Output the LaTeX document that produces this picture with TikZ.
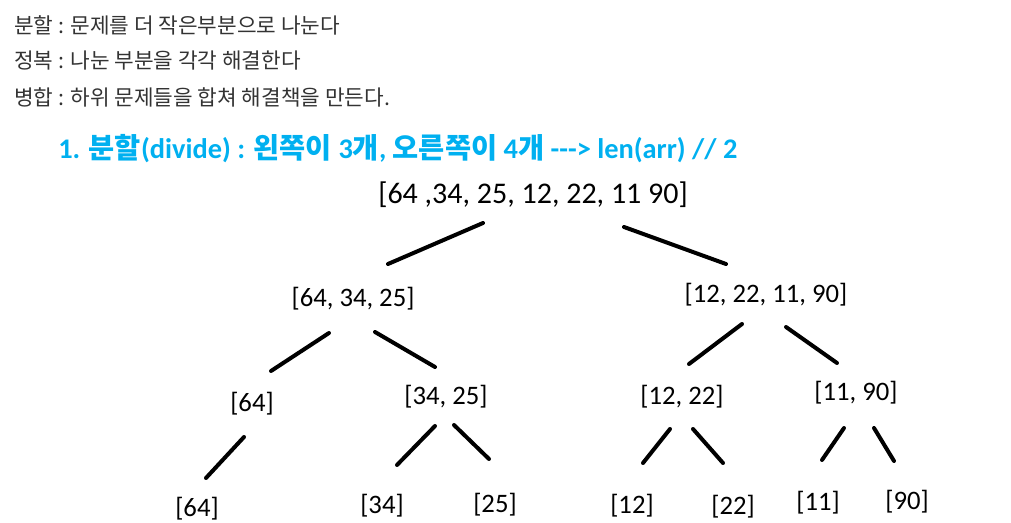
\documentclass[tikz,border=0pt]{standalone}
\usepackage{fontspec}
\setmainfont{Carlito}
\newfontfamily\kr{Noto Sans CJK KR}
\usetikzlibrary{calc}
\definecolor{headblue}{RGB}{0,176,240}
\newcommand{\branch}[4]{\draw[branch] ($(#1)+(#2)$) -- ($(#3)+(#4)$);}

\begin{document}
\begin{tikzpicture}[x=0.75pt,y=-0.75pt]
    \tikzstyle{note}=[anchor=west, inner sep=0pt, text=black!80, font=\kr\fontsize{16}{19}\selectfont]
    \tikzstyle{arr}=[inner sep=0pt, font=\fontsize{20}{24}\selectfont]
    \tikzstyle{branch}=[line width=3pt, line cap=round]
    \useasboundingbox (0,0) rectangle (1011,523);

    \node[note] (divide) at (14,25) {분할 : 문제를 더 작은부분으로 나눈다};
    \node[note] (conquer) at (14,61) {정복 : 나눈 부분을 각각 해결한다};
    \node[note] (combine) at (14,97) {병합 : 하위 문제들을 합쳐 해결책을 만든다.};
    \node[anchor=west, inner sep=0pt, text=headblue, font=\bfseries\fontsize{21.3}{25}\selectfont] (title) at (58,149)
        {1. {\kr 분할}(divide) : {\kr 왼쪽이} 3{\kr 개}, {\kr 오른쪽이} 4{\kr 개} -{}-{}-> len(arr) // 2};

    \node[arr, font=\fontsize{22.5}{27}\selectfont] (root) at (533,195) {[64 ,34, 25, 12, 22, 11 90]};
    \node[arr] (l) at (353,299) {[64, 34, 25]};
    \node[arr] (r) at (766,295) {[12, 22, 11, 90]};
    \node[arr] (ll) at (252,404) {[64]};
    \node[arr] (lr) at (446,397) {[34, 25]};
    \node[arr] (rl) at (682,397) {[12, 22]};
    \node[arr] (rr) at (856,393) {[11, 90]};
    \node[arr] (lla) at (197,509) {[64]};
    \node[arr] (lra) at (382,506) {[34]};
    \node[arr] (lrb) at (495,505) {[25]};
    \node[arr] (rla) at (632,506) {[12]};
    \node[arr] (rlb) at (733,507) {[22]};
    \node[arr] (rra) at (818,503) {[11]};
    \node[arr] (rrb) at (907,502) {[90]};

    % divide lines
    \branch{root}{-50,28}{l}{35,-35}
    \branch{root}{91,32}{r}{-40,-31}
    \branch{l}{-24,34}{ll}{19,-33}
    \branch{l}{22,33}{lr}{-11,-30}
    \branch{r}{-24,29}{rl}{7,-33}
    \branch{r}{20,32}{rr}{-19,-30}
    \branch{ll}{-8,33}{lla}{9,-31}
    \branch{lr}{-11,29}{lra}{15,-41}
    \branch{lr}{8,28}{lrb}{-6,-46}
    \branch{rl}{-12,32}{rla}{11,-43}
    \branch{rl}{11,32}{rlb}{-10,-44}
    \branch{rr}{-12,35}{rra}{4,-43}
    \branch{rr}{18,35}{rrb}{-13,-41}
\end{tikzpicture}
\end{document}
